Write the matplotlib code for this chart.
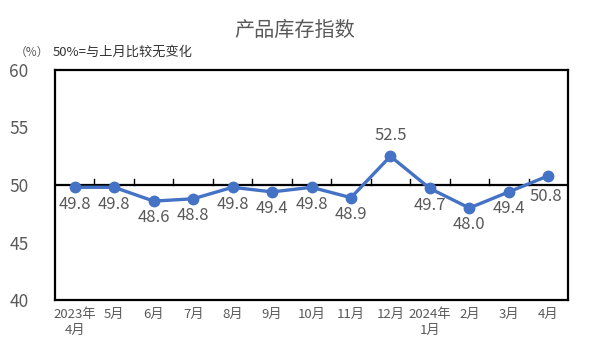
import matplotlib
matplotlib.use("Agg")
import matplotlib.pyplot as plt

plt.rcParams['font.family'] = ['Noto Sans CJK SC', 'DejaVu Sans']

categories = ["2023年\n4月", "5月", "6月", "7月", "8月", "9月", "10月", "11月", "12月",
              "2024年\n1月", "2月", "3月", "4月"]
values = [49.8, 49.8, 48.6, 48.8, 49.8, 49.4, 49.8, 48.9, 52.5, 49.7, 48.0, 49.4, 50.8]
yticks = [40, 45, 50, 55, 60]

line_color = "#4472C4"
text_color = "#595959"

fig = plt.figure(figsize=(5.91, 3.54), dpi=100)
ax = fig.add_axes([55/591, 1-300/354, (568-55)/591, (300-70)/354])

x = list(range(len(values)))
ax.plot(x, values, color=line_color, lw=2.4, marker='o', ms=7.5, zorder=3)
ax.set_xlim(-0.5, len(values)-0.5)
ax.set_ylim(40, 60)
ax.set_yticks(yticks)
ax.set_yticklabels([str(v) for v in yticks], fontsize=12.5, color=text_color)
ax.tick_params(axis='y', length=0, pad=19)
ax.set_xticks([])
for s in ax.spines.values():
    s.set_linewidth(1.6)
    s.set_color('black')

ax.axhline(50, color='black', lw=1.6, zorder=2)
for b in range(1, len(values)):
    ax.plot([b-0.5, b-0.5], [50, 50.5], color='black', lw=1, zorder=2)

for i, (xi, v) in enumerate(zip(x, values)):
    if v == 52.5:
        ax.annotate(f"{v:.1f}", (xi, v), xytext=(0, 9), textcoords='offset points',
                    ha='center', va='bottom', fontsize=12, color=text_color)
    elif i == len(values)-1:
        ax.annotate(f"{v:.1f}", (xi, v), xytext=(-2, -8.5), textcoords='offset points',
                    ha='center', va='top', fontsize=12, color=text_color)
    else:
        ax.annotate(f"{v:.1f}", (xi, v), xytext=(0, -6), textcoords='offset points',
                    ha='center', va='top', fontsize=12, color=text_color)

for xi, c in zip(x, categories):
    ax.text(xi, -0.035, c, transform=ax.get_xaxis_transform(), ha='center', va='top',
            fontsize=9.5, color=text_color, linespacing=1.25)

fig.text(295/591, 1-30/354, "产品库存指数", ha='center', va='center', fontsize=14.5, color=text_color)
fig.text(32/591, 1-52/354, "（%）", ha='center', va='center', fontsize=8.5, color=text_color)
fig.text(53/591, 1-52/354, "50%=与上月比较无变化", ha='left', va='center', fontsize=9.5, color='#333333')

fig.savefig("out.png", dpi=100)
